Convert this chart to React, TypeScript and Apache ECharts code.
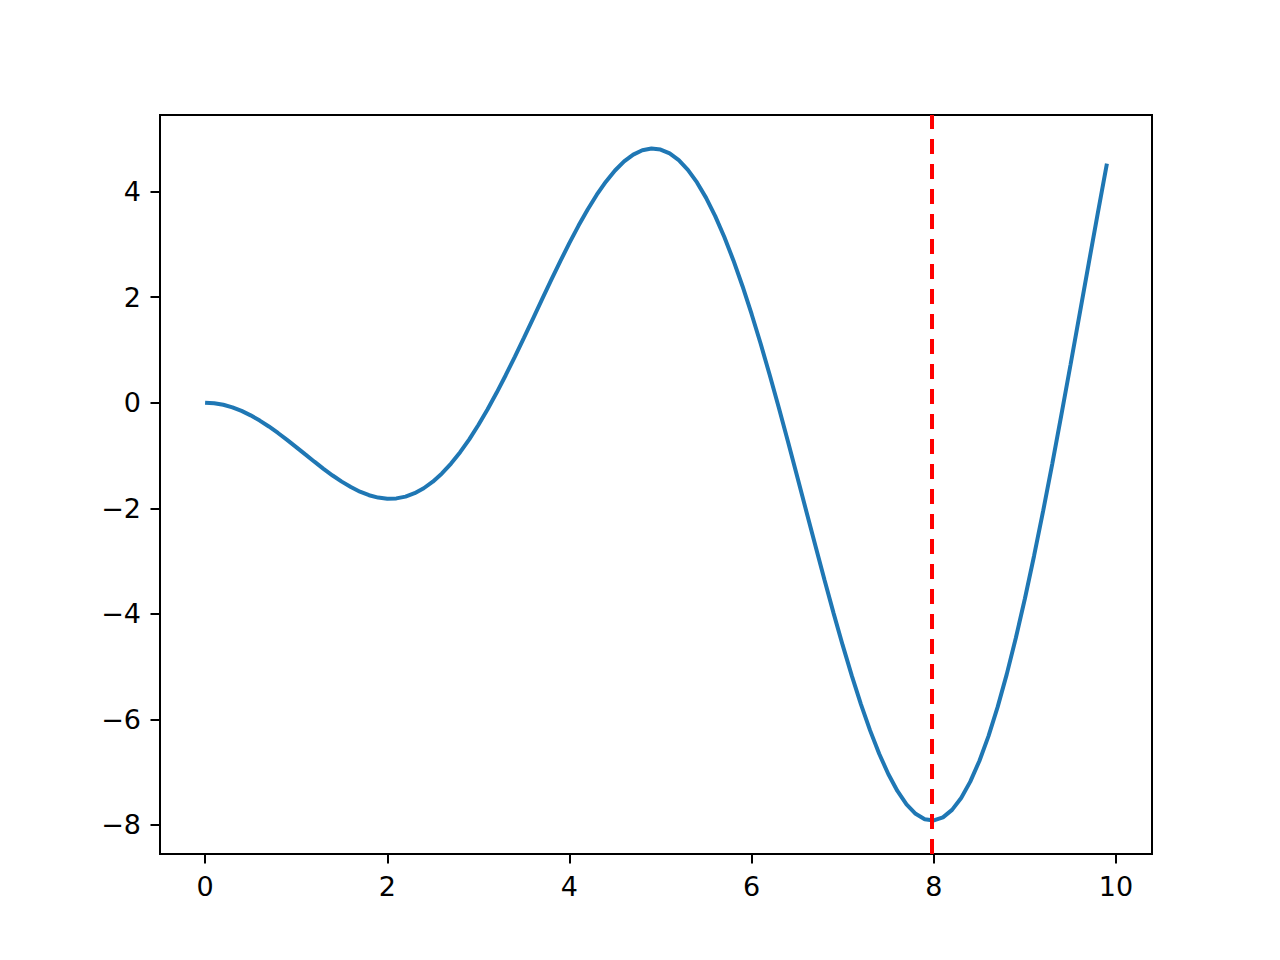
import * as echarts from 'echarts';
import React, { useEffect, useRef } from 'react';

// x 값 (0.0 ~ 9.9, 0.1 간격)
const xValues = [
  0.0, 0.1, 0.2, 0.3, 0.4, 0.5, 0.6, 0.7, 0.8, 0.9,
  1.0, 1.1, 1.2, 1.3, 1.4, 1.5, 1.6, 1.7, 1.8, 1.9,
  2.0, 2.1, 2.2, 2.3, 2.4, 2.5, 2.6, 2.7, 2.8, 2.9,
  3.0, 3.1, 3.2, 3.3, 3.4, 3.5, 3.6, 3.7, 3.8, 3.9,
  4.0, 4.1, 4.2, 4.3, 4.4, 4.5, 4.6, 4.7, 4.8, 4.9,
  5.0, 5.1, 5.2, 5.3, 5.4, 5.5, 5.6, 5.7, 5.8, 5.9,
  6.0, 6.1, 6.2, 6.3, 6.4, 6.5, 6.6, 6.7, 6.8, 6.9,
  7.0, 7.1, 7.2, 7.3, 7.4, 7.5, 7.6, 7.7, 7.8, 7.9,
  8.0, 8.1, 8.2, 8.3, 8.4, 8.5, 8.6, 8.7, 8.8, 8.9,
  9.0, 9.1, 9.2, 9.3, 9.4, 9.5, 9.6, 9.7, 9.8, 9.9,
];

// 곡선 y 값
const yValues = [
  0, -0.01, -0.04, -0.089, -0.156, -0.24, -0.339, -0.451, -0.574, -0.705,
  -0.841, -0.98, -1.118, -1.253, -1.38, -1.496, -1.599, -1.686, -1.753, -1.798,
  -1.819, -1.813, -1.779, -1.715, -1.621, -1.496, -1.34, -1.154, -0.938, -0.694,
  -0.423, -0.129, 0.187, 0.52, 0.869, 1.228, 1.593, 1.96, 2.325, 2.682,
  3.027, 3.355, 3.661, 3.94, 4.187, 4.399, 4.571, 4.7, 4.782, 4.814,
  4.795, 4.722, 4.594, 4.411, 4.173, 3.88, 3.535, 3.139, 2.695, 2.206,
  1.676, 1.111, 0.515, -0.106, -0.746, -1.398, -2.056, -2.712, -3.36, -3.991,
  -4.599, -5.176, -5.715, -6.208, -6.65, -7.035, -7.356, -7.609, -7.788, -7.891,
  -7.915, -7.856, -7.714, -7.488, -7.179, -6.787, -6.316, -5.768, -5.147, -4.459,
  -3.709, -2.904, -2.051, -1.158, -0.233, 0.714, 1.673, 2.636, 3.592, 4.529,
];

// 빨간 점선 위치 (최솟값)
const markerX = 7.98;

// 눈금 라벨
const xTicks = [0, 2, 4, 6, 8, 10];
const yTicks = [-8, -6, -4, -2, 0, 2, 4];

const fmt = (v: number) => String(v).replace('-', '\u2212');

export default function App() {
  const chartRef = useRef<HTMLDivElement>(null);

  useEffect(() => {
    const chart = echarts.init(chartRef.current, null, { renderer: 'svg' });

    const labelStyle = {
      color: '#000',
      fontSize: 27,
      fontFamily: 'DejaVu Sans',
      margin: 19,
      formatter: (v: number) => fmt(v),
    };
    const lineCommon = {
      splitLine: { show: false },
      axisLine: { show: true, onZero: false, lineStyle: { color: '#000', width: 2 } },
    };

    const option = {
      animation: false,
      grid: {
        left: 160,
        right: 128,
        top: 115,
        bottom: 106,
        show: true,
        borderColor: '#000',
        borderWidth: 2,
        backgroundColor: 'transparent',
      },
      xAxis: {
        type: 'value',
        min: -0.495,
        max: 10.395,
        ...lineCommon,
        axisTick: {
          show: true,
          length: 9.5,
          customValues: xTicks,
          lineStyle: { color: '#000', width: 2 },
        },
        axisLabel: { ...labelStyle, customValues: xTicks },
      },
      yAxis: {
        type: 'value',
        min: -8.55,
        max: 5.45,
        ...lineCommon,
        axisTick: {
          show: true,
          length: 9.5,
          customValues: yTicks,
          lineStyle: { color: '#000', width: 2 },
        },
        axisLabel: { ...labelStyle, customValues: yTicks },
      },
      series: [
        {
          type: 'line',
          data: xValues.map((x, i) => [x, yValues[i]]),
          symbol: 'none',
          lineStyle: { color: '#1f77b4', width: 4 },
          markLine: {
            silent: true,
            symbol: 'none',
            label: { show: false },
            lineStyle: {
              color: '#ff0000',
              width: 4,
              type: [15, 10],
            },
            data: [{ xAxis: markerX }],
          },
          z: 2,
        },
      ],
    };

    chart.setOption(option);
    return () => chart.dispose();
  }, []);

  return (
    <div
      ref={chartRef}
      style={{ position: 'fixed', left: 0, top: 0, width: 1280, height: 960, background: '#fff' }}
    />
  );
}
